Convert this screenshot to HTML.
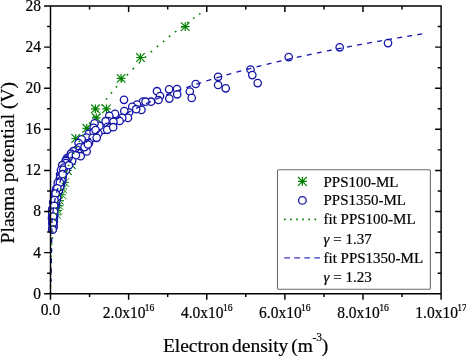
<!DOCTYPE html><html><head><meta charset="utf-8"><style>html,body{margin:0;padding:0;background:#fff;overflow:hidden;}svg{display:block;will-change:transform;}text{font-family:"Liberation Serif",serif;fill:#000;stroke:#000;stroke-width:0.2px;}</style></head><body>
<svg width="466" height="356" viewBox="0 0 466 356">
<path d="M180.90,26.60L189.50,26.60M185.20,22.30L185.20,30.90M180.90,22.30L189.50,30.90M180.90,30.90L189.50,22.30M136.10,57.50L144.70,57.50M140.40,53.20L140.40,61.80M136.10,53.20L144.70,61.80M136.10,61.80L144.70,53.20M116.80,78.40L125.40,78.40M121.10,74.10L121.10,82.70M116.80,74.10L125.40,82.70M116.80,82.70L125.40,74.10M102.10,108.90L110.70,108.90M106.40,104.60L106.40,113.20M102.10,104.60L110.70,113.20M102.10,113.20L110.70,104.60M91.10,108.80L99.70,108.80M95.40,104.50L95.40,113.10M91.10,104.50L99.70,113.10M91.10,113.10L99.70,104.50M92.00,117.80L100.60,117.80M96.30,113.50L96.30,122.10M92.00,113.50L100.60,122.10M92.00,122.10L100.60,113.50M82.50,128.30L91.10,128.30M86.80,124.00L86.80,132.60M82.50,124.00L91.10,132.60M82.50,132.60L91.10,124.00M71.40,138.50L80.00,138.50M75.70,134.20L75.70,142.80M71.40,134.20L80.00,142.80M71.40,142.80L80.00,134.20M64.90,160.20L73.50,160.20M69.20,155.90L69.20,164.50M64.90,155.90L73.50,164.50M64.90,164.50L73.50,155.90M67.00,164.50L75.60,164.50M71.30,160.20L71.30,168.80M67.00,160.20L75.60,168.80M67.00,168.80L75.60,160.20M63.10,170.50L71.70,170.50M67.40,166.20L67.40,174.80M63.10,166.20L71.70,174.80M63.10,174.80L71.70,166.20" stroke="#008000" stroke-width="1.2" fill="none"/>
<path d="M60.50,182.50L69.10,182.50M64.80,178.20L64.80,186.80M60.50,178.20L69.10,186.80M60.50,186.80L69.10,178.20M58.40,188.90L67.00,188.90M62.70,184.60L62.70,193.20M58.40,184.60L67.00,193.20M58.40,193.20L67.00,184.60M57.50,194.70L66.10,194.70M61.80,190.40L61.80,199.00M57.50,190.40L66.10,199.00M57.50,199.00L66.10,190.40M55.30,200.50L63.90,200.50M59.60,196.20L59.60,204.80M55.30,196.20L63.90,204.80M55.30,204.80L63.90,196.20M54.60,205.50L63.20,205.50M58.90,201.20L58.90,209.80M54.60,201.20L63.20,209.80M54.60,209.80L63.20,201.20M53.50,210.50L62.10,210.50M57.80,206.20L57.80,214.80M53.50,206.20L62.10,214.80M53.50,214.80L62.10,206.20M52.70,214.80L61.30,214.80M57.00,210.50L57.00,219.10M52.70,210.50L61.30,219.10M52.70,219.10L61.30,210.50" stroke="#008000" stroke-width="0.9" fill="none"/>
<g fill="#fff" stroke="#1414a8" stroke-width="1.3">
<circle cx="288.7" cy="57.1" r="3.7"/>
<circle cx="339.7" cy="47.3" r="3.7"/>
<circle cx="388.0" cy="43.1" r="3.7"/>
<circle cx="250.5" cy="69.5" r="3.7"/>
<circle cx="252.3" cy="75.1" r="3.7"/>
<circle cx="257.7" cy="83.1" r="3.7"/>
<circle cx="218.1" cy="76.8" r="3.7"/>
<circle cx="218.1" cy="85.0" r="3.7"/>
<circle cx="225.7" cy="88.3" r="3.7"/>
<circle cx="195.7" cy="84.0" r="3.7"/>
<circle cx="189.8" cy="91.5" r="3.7"/>
<circle cx="191.7" cy="97.9" r="3.7"/>
<circle cx="177.0" cy="89.0" r="3.7"/>
<circle cx="177.2" cy="94.3" r="3.7"/>
<circle cx="169.1" cy="89.3" r="3.7"/>
<circle cx="169.3" cy="98.6" r="3.7"/>
<circle cx="157.0" cy="91.2" r="3.7"/>
<circle cx="160.0" cy="96.0" r="3.7"/>
<circle cx="158.4" cy="100.0" r="3.7"/>
<circle cx="151.0" cy="101.7" r="3.7"/>
<circle cx="143.0" cy="101.5" r="3.7"/>
<circle cx="145.5" cy="101.7" r="3.7"/>
<circle cx="137.0" cy="104.5" r="3.7"/>
<circle cx="132.2" cy="106.8" r="3.7"/>
<circle cx="141.4" cy="109.9" r="3.7"/>
<circle cx="129.0" cy="112.5" r="3.7"/>
<circle cx="124.0" cy="99.8" r="3.7"/>
<circle cx="124.3" cy="111.0" r="3.7"/>
<circle cx="136.2" cy="109.2" r="3.7"/>
<circle cx="127.9" cy="117.9" r="3.7"/>
<circle cx="122.2" cy="117.9" r="3.7"/>
<circle cx="115.0" cy="113.9" r="3.7"/>
<circle cx="109.3" cy="115.9" r="3.7"/>
<circle cx="108.2" cy="121.0" r="3.7"/>
<circle cx="119.6" cy="121.0" r="3.7"/>
<circle cx="113.4" cy="121.8" r="3.7"/>
<circle cx="105.6" cy="121.2" r="3.7"/>
<circle cx="107.6" cy="126.9" r="3.7"/>
<circle cx="103.0" cy="130.0" r="3.7"/>
<circle cx="99.4" cy="125.9" r="3.7"/>
<circle cx="94.5" cy="123.3" r="3.7"/>
<circle cx="93.7" cy="127.9" r="3.7"/>
<circle cx="107.2" cy="129.8" r="3.7"/>
<circle cx="113.2" cy="127.2" r="3.7"/>
<circle cx="98.3" cy="133.5" r="3.7"/>
<circle cx="88.9" cy="133.7" r="3.7"/>
<circle cx="93.6" cy="132.1" r="3.7"/>
<circle cx="86.4" cy="137.5" r="3.7"/>
<circle cx="92.6" cy="137.8" r="3.7"/>
<circle cx="96.7" cy="137.8" r="3.7"/>
<circle cx="82.8" cy="141.1" r="3.7"/>
<circle cx="81.7" cy="139.3" r="3.7"/>
<circle cx="89.0" cy="143.0" r="3.7"/>
<circle cx="78.6" cy="143.0" r="3.7"/>
<circle cx="95.6" cy="130.0" r="3.7"/>
<circle cx="79.5" cy="147.3" r="3.7"/>
<circle cx="83.6" cy="149.9" r="3.7"/>
<circle cx="76.9" cy="149.9" r="3.7"/>
<circle cx="73.3" cy="151.2" r="3.7"/>
<circle cx="70.9" cy="153.7" r="3.7"/>
<circle cx="78.4" cy="153.0" r="3.7"/>
<circle cx="86.7" cy="146.2" r="3.7"/>
<circle cx="86.7" cy="151.5" r="3.7"/>
<circle cx="84.6" cy="147.1" r="3.7"/>
<circle cx="87.9" cy="144.5" r="3.7"/>
<circle cx="67.0" cy="158.0" r="3.7"/>
<circle cx="69.5" cy="161.0" r="3.7"/>
<circle cx="72.0" cy="158.5" r="3.7"/>
<circle cx="66.0" cy="162.5" r="3.7"/>
<circle cx="71.3" cy="156.3" r="3.7"/>
<circle cx="69.3" cy="157.8" r="3.7"/>
<circle cx="70.4" cy="159.4" r="3.7"/>
<circle cx="65.9" cy="160.0" r="3.7"/>
<circle cx="71.7" cy="155.5" r="3.7"/>
<circle cx="80.7" cy="156.2" r="3.7"/>
<circle cx="75.9" cy="155.2" r="3.7"/>
<circle cx="72.1" cy="161.0" r="3.7"/>
<circle cx="65.9" cy="161.0" r="3.7"/>
<circle cx="63.7" cy="164.8" r="3.7"/>
<circle cx="61.4" cy="172.6" r="3.7"/>
<circle cx="66.3" cy="164.1" r="3.7"/>
<circle cx="61.8" cy="171.2" r="3.7"/>
<circle cx="53.0" cy="210.4" r="3.7"/>
<circle cx="52.7" cy="213.7" r="3.7"/>
<circle cx="62.5" cy="177.4" r="3.7"/>
<circle cx="60.9" cy="179.0" r="3.7"/>
<circle cx="60.1" cy="174.7" r="3.7"/>
<circle cx="55.9" cy="192.5" r="3.7"/>
<circle cx="60.8" cy="176.0" r="3.7"/>
<circle cx="61.2" cy="176.8" r="3.7"/>
<circle cx="54.3" cy="203.0" r="3.7"/>
<circle cx="65.3" cy="170.5" r="3.7"/>
<circle cx="54.5" cy="204.6" r="3.7"/>
<circle cx="63.3" cy="165.5" r="3.7"/>
<circle cx="53.8" cy="221.5" r="3.7"/>
<circle cx="52.6" cy="228.9" r="3.7"/>
<circle cx="52.4" cy="211.5" r="3.7"/>
<circle cx="62.7" cy="175.3" r="3.7"/>
<circle cx="62.9" cy="167.7" r="3.7"/>
<circle cx="62.5" cy="174.1" r="3.7"/>
<circle cx="52.0" cy="218.4" r="3.7"/>
<circle cx="52.5" cy="222.3" r="3.7"/>
<circle cx="59.2" cy="185.9" r="3.7"/>
<circle cx="58.3" cy="187.6" r="3.7"/>
<circle cx="53.2" cy="202.3" r="3.7"/>
<circle cx="56.3" cy="196.2" r="3.7"/>
<circle cx="54.0" cy="217.8" r="3.7"/>
<circle cx="52.2" cy="229.4" r="3.7"/>
<circle cx="59.9" cy="185.1" r="3.7"/>
<circle cx="58.5" cy="182.1" r="3.7"/>
<circle cx="58.5" cy="189.3" r="3.7"/>
<circle cx="64.7" cy="166.8" r="3.7"/>
<circle cx="52.2" cy="216.7" r="3.7"/>
<circle cx="53.7" cy="213.1" r="3.7"/>
<circle cx="54.1" cy="200.3" r="3.7"/>
<circle cx="52.7" cy="209.8" r="3.7"/>
<circle cx="56.4" cy="188.4" r="3.7"/>
<circle cx="54.2" cy="214.9" r="3.7"/>
<circle cx="52.1" cy="210.9" r="3.7"/>
<circle cx="60.8" cy="184.4" r="3.7"/>
<circle cx="57.1" cy="190.9" r="3.7"/>
<circle cx="55.5" cy="191.7" r="3.7"/>
<circle cx="55.0" cy="198.8" r="3.7"/>
<circle cx="55.3" cy="193.0" r="3.7"/>
<circle cx="53.5" cy="225.4" r="3.7"/>
<circle cx="59.0" cy="190.3" r="3.7"/>
<circle cx="64.5" cy="169.3" r="3.7"/>
<circle cx="67.1" cy="163.6" r="3.7"/>
<circle cx="65.1" cy="168.3" r="3.7"/>
<circle cx="55.2" cy="201.7" r="3.7"/>
<circle cx="53.0" cy="214.4" r="3.7"/>
<circle cx="55.2" cy="206.9" r="3.7"/>
<circle cx="52.4" cy="209.3" r="3.7"/>
<circle cx="54.9" cy="198.1" r="3.7"/>
<circle cx="55.4" cy="206.0" r="3.7"/>
<circle cx="53.1" cy="220.5" r="3.7"/>
<circle cx="52.1" cy="212.2" r="3.7"/>
<circle cx="53.0" cy="223.9" r="3.7"/>
<circle cx="53.2" cy="220.0" r="3.7"/>
<circle cx="54.2" cy="200.9" r="3.7"/>
<circle cx="63.2" cy="166.3" r="3.7"/>
<circle cx="55.4" cy="193.9" r="3.7"/>
<circle cx="56.0" cy="203.8" r="3.7"/>
<circle cx="59.9" cy="178.3" r="3.7"/>
<circle cx="53.2" cy="215.9" r="3.7"/>
<circle cx="53.4" cy="227.3" r="3.7"/>
<circle cx="56.8" cy="199.7" r="3.7"/>
<circle cx="63.2" cy="173.4" r="3.7"/>
<circle cx="52.3" cy="223.0" r="3.7"/>
<circle cx="52.6" cy="224.8" r="3.7"/>
<circle cx="52.8" cy="217.2" r="3.7"/>
<circle cx="65.7" cy="163.0" r="3.7"/>
<circle cx="52.6" cy="208.5" r="3.7"/>
<circle cx="59.8" cy="181.2" r="3.7"/>
<circle cx="56.2" cy="194.5" r="3.7"/>
<circle cx="62.4" cy="180.6" r="3.7"/>
<circle cx="53.6" cy="207.8" r="3.7"/>
<circle cx="60.6" cy="183.6" r="3.7"/>
<circle cx="62.3" cy="171.7" r="3.7"/>
<circle cx="57.8" cy="182.8" r="3.7"/>
<circle cx="66.1" cy="170.0" r="3.7"/>
<circle cx="57.0" cy="197.1" r="3.7"/>
<circle cx="53.5" cy="226.4" r="3.7"/>
<circle cx="54.8" cy="205.4" r="3.7"/>
<circle cx="54.8" cy="195.5" r="3.7"/>
<circle cx="53.2" cy="219.4" r="3.7"/>
<circle cx="52.5" cy="228.2" r="3.7"/>
<circle cx="61.5" cy="180.0" r="3.7"/>
<circle cx="60.1" cy="186.6" r="3.7"/>
<circle cx="62.3" cy="165.2" r="3.7"/>
<circle cx="64.0" cy="167.5" r="3.7"/>
<circle cx="61.0" cy="170.0" r="3.7"/>
<circle cx="63.3" cy="169.8" r="3.7"/>
<circle cx="68.9" cy="165.2" r="3.7"/>
<circle cx="62.7" cy="174.2" r="3.7"/>
<circle cx="59.9" cy="182.6" r="3.7"/>
<circle cx="57.3" cy="188.3" r="3.7"/>
<circle cx="55.6" cy="193.5" r="3.7"/>
<circle cx="54.5" cy="200.1" r="3.7"/>
<circle cx="54.2" cy="205.8" r="3.7"/>
<circle cx="54.0" cy="211.5" r="3.7"/>
<circle cx="53.1" cy="216.5" r="3.7"/>
<circle cx="53.0" cy="222.9" r="3.7"/>
<circle cx="52.7" cy="229.7" r="3.7"/>
</g>
<!-- green P=6.046 c0=1.275 r=0.950 -->
<path d="M50.50,293.08 L50.50,293.03 L50.50,292.97 L50.50,292.92 L50.50,292.86 L50.50,292.80 L50.50,292.74 L50.50,292.68 L50.50,292.62 L50.50,292.56 L50.50,292.50 L50.50,292.44 L50.50,292.38 L50.50,292.32 L50.50,292.26 L50.50,292.20 L50.50,292.13 L50.50,292.07 L50.50,292.01 L50.50,291.95 L50.50,291.88 L50.50,291.82 L50.50,291.78M50.51,287.03 L50.51,286.98 L50.51,286.91 L50.51,286.84 L50.51,286.77 L50.51,286.70 L50.51,286.62 L50.51,286.55 L50.51,286.48 L50.51,286.41 L50.51,286.33 L50.51,286.26 L50.51,286.19 L50.51,286.12 L50.51,286.04 L50.51,285.97 L50.51,285.90 L50.51,285.83 L50.51,285.75 L50.51,285.73M50.54,280.98 L50.54,280.97 L50.54,280.89 L50.54,280.82 L50.54,280.74 L50.54,280.66 L50.54,280.59 L50.54,280.51 L50.54,280.43 L50.54,280.36 L50.54,280.28 L50.54,280.20 L50.54,280.13 L50.54,280.05 L50.54,279.97 L50.54,279.90 L50.54,279.82 L50.55,279.74 L50.55,279.68M50.60,274.94 L50.60,274.89 L50.60,274.81 L50.60,274.73 L50.60,274.65 L50.61,274.57 L50.61,274.49 L50.61,274.41 L50.61,274.33 L50.61,274.25 L50.61,274.17 L50.61,274.09 L50.61,274.01 L50.62,273.93 L50.62,273.85 L50.62,273.77 L50.62,273.69 L50.62,273.64M50.71,268.89 L50.71,268.85 L50.72,268.76 L50.72,268.68 L50.72,268.60 L50.72,268.52 L50.72,268.44 L50.73,268.36 L50.73,268.27 L50.73,268.19 L50.73,268.11 L50.73,268.03 L50.74,267.95 L50.74,267.86 L50.74,267.78 L50.74,267.70 L50.74,267.62 L50.75,267.59M50.89,262.85 L50.89,262.82 L50.89,262.74 L50.89,262.65 L50.89,262.57 L50.90,262.49 L50.90,262.40 L50.90,262.32 L50.91,262.24 L50.91,262.15 L50.91,262.07 L50.92,261.99 L50.92,261.90 L50.92,261.82 L50.92,261.74 L50.93,261.65 L50.93,261.57 L50.93,261.55M51.13,256.80 L51.13,256.76 L51.13,256.68 L51.14,256.59 L51.14,256.51 L51.14,256.42 L51.15,256.34 L51.15,256.25 L51.15,256.17 L51.16,256.08 L51.16,256.00 L51.17,255.91 L51.17,255.83 L51.18,255.74 L51.18,255.66 L51.18,255.57 L51.19,255.50M51.44,250.75 L51.45,250.69 L51.45,250.60 L51.46,250.52 L51.46,250.43 L51.47,250.34 L51.47,250.26 L51.48,250.17 L51.48,250.08 L51.49,250.00 L51.49,249.91 L51.50,249.83 L51.50,249.74 L51.51,249.65 L51.51,249.57 L51.52,249.48 L51.52,249.45M51.85,244.71 L51.85,244.70 L51.85,244.61 L51.86,244.53 L51.87,244.44 L51.87,244.35 L51.88,244.27 L51.89,244.18 L51.89,244.09 L51.90,244.00 L51.91,243.92 L51.91,243.83 L51.92,243.74 L51.93,243.65 L51.93,243.57 L51.94,243.48 L51.94,243.41M52.34,238.66 L52.34,238.64 L52.35,238.55 L52.36,238.47 L52.37,238.38 L52.38,238.29 L52.38,238.20 L52.39,238.11 L52.40,238.02 L52.41,237.94 L52.42,237.85 L52.43,237.76 L52.43,237.67 L52.44,237.58 L52.45,237.49 L52.46,237.41 L52.46,237.36M52.94,232.62 L52.94,232.61 L52.95,232.52 L52.96,232.43 L52.97,232.34 L52.98,232.25 L52.99,232.16 L53.00,232.07 L53.01,231.98 L53.02,231.89 L53.03,231.80 L53.04,231.71 L53.05,231.62 L53.06,231.53 L53.07,231.44 L53.08,231.36 L53.09,231.32M53.65,226.57 L53.66,226.51 L53.67,226.42 L53.68,226.33 L53.69,226.24 L53.71,226.15 L53.72,226.06 L53.73,225.97 L53.74,225.88 L53.75,225.79 L53.76,225.70 L53.78,225.61 L53.79,225.52 L53.80,225.43 L53.81,225.34 L53.82,225.27M54.48,220.52 L54.49,220.45 L54.50,220.36 L54.52,220.27 L54.53,220.18 L54.54,220.08 L54.56,219.99 L54.57,219.90 L54.59,219.81 L54.60,219.72 L54.61,219.63 L54.63,219.54 L54.64,219.45 L54.65,219.36 L54.67,219.27 L54.67,219.22M55.43,214.48 L55.44,214.43 L55.46,214.34 L55.47,214.25 L55.49,214.15 L55.50,214.06 L55.52,213.97 L55.53,213.88 L55.55,213.79 L55.56,213.70 L55.58,213.60 L55.60,213.51 L55.61,213.42 L55.63,213.33 L55.64,213.24 L55.65,213.18M56.52,208.43 L56.53,208.36 L56.55,208.27 L56.57,208.18 L56.58,208.09 L56.60,207.99 L56.62,207.90 L56.64,207.81 L56.65,207.72 L56.67,207.62 L56.69,207.53 L56.71,207.44 L56.73,207.35 L56.74,207.26 L56.76,207.16 L56.77,207.13M57.74,202.39 L57.75,202.35 L57.77,202.25 L57.79,202.16 L57.81,202.07 L57.83,201.98 L57.85,201.88 L57.87,201.79 L57.89,201.70 L57.91,201.60 L57.93,201.51 L57.95,201.42 L57.97,201.32 L57.99,201.23 L58.01,201.14 L58.02,201.09M59.11,196.34 L59.12,196.29 L59.14,196.20 L59.17,196.10 L59.19,196.01 L59.21,195.92 L59.23,195.82 L59.26,195.73 L59.28,195.64 L59.30,195.54 L59.32,195.45 L59.35,195.36 L59.37,195.26 L59.39,195.17 L59.42,195.08 L59.42,195.04M60.63,190.29 L60.63,190.29 L60.66,190.20 L60.68,190.10 L60.71,190.01 L60.73,189.92 L60.76,189.82 L60.78,189.73 L60.81,189.63 L60.83,189.54 L60.86,189.45 L60.88,189.35 L60.91,189.26 L60.93,189.16 L60.96,189.07 L60.98,188.99M62.32,184.25 L62.34,184.16 L62.37,184.07 L62.39,183.98 L62.42,183.88 L62.45,183.79 L62.48,183.69 L62.51,183.60 L62.53,183.50 L62.56,183.41 L62.59,183.31 L62.62,183.22 L62.65,183.12 L62.67,183.03 L62.70,182.95M64.16,178.20 L64.17,178.19 L64.20,178.10 L64.23,178.00 L64.26,177.91 L64.29,177.81 L64.32,177.72 L64.35,177.62 L64.38,177.53 L64.41,177.43 L64.44,177.34 L64.47,177.24 L64.50,177.15 L64.53,177.05 L64.56,176.96 L64.58,176.90M66.18,172.16 L66.20,172.09 L66.24,172.00 L66.27,171.90 L66.30,171.81 L66.34,171.71 L66.37,171.62 L66.41,171.52 L66.44,171.43 L66.47,171.33 L66.51,171.23 L66.54,171.14 L66.57,171.04 L66.61,170.95 L66.64,170.86M68.38,166.11 L68.40,166.06 L68.44,165.97 L68.47,165.87 L68.51,165.77 L68.55,165.68 L68.58,165.58 L68.62,165.49 L68.66,165.39 L68.69,165.29 L68.73,165.20 L68.77,165.10 L68.80,165.01 L68.84,164.91 L68.88,164.81 L68.88,164.81M70.77,160.06 L70.79,160.00 L70.83,159.90 L70.87,159.81 L70.91,159.71 L70.95,159.61 L70.99,159.52 L71.03,159.42 L71.07,159.33 L71.11,159.23 L71.15,159.13 L71.19,159.04 L71.23,158.94 L71.27,158.84 L71.30,158.76M73.34,154.02 L73.34,154.01 L73.39,153.91 L73.43,153.81 L73.47,153.72 L73.52,153.62 L73.56,153.52 L73.60,153.43 L73.64,153.33 L73.69,153.23 L73.73,153.14 L73.77,153.04 L73.82,152.94 L73.86,152.85 L73.90,152.75 L73.92,152.72M76.11,147.97 L76.15,147.89 L76.19,147.80 L76.24,147.70 L76.29,147.60 L76.33,147.50 L76.38,147.41 L76.43,147.31 L76.47,147.21 L76.52,147.12 L76.57,147.02 L76.61,146.92 L76.66,146.82 L76.71,146.73 L76.73,146.67M79.09,141.93 L79.12,141.85 L79.17,141.75 L79.22,141.66 L79.27,141.56 L79.32,141.46 L79.37,141.36 L79.42,141.27 L79.47,141.17 L79.52,141.07 L79.57,140.97 L79.62,140.87 L79.67,140.78 L79.72,140.68 L79.75,140.63M82.27,135.88 L82.32,135.78 L82.37,135.69 L82.43,135.59 L82.48,135.49 L82.53,135.39 L82.59,135.29 L82.64,135.20 L82.70,135.10 L82.75,135.00 L82.80,134.90 L82.86,134.80 L82.91,134.71 L82.96,134.61 L82.98,134.58M85.67,129.83 L85.69,129.79 L85.75,129.70 L85.80,129.60 L85.86,129.50 L85.92,129.40 L85.98,129.30 L86.03,129.20 L86.09,129.10 L86.15,129.01 L86.21,128.91 L86.26,128.81 L86.32,128.71 L86.38,128.61 L86.43,128.53M89.28,123.79 L89.29,123.78 L89.35,123.68 L89.41,123.58 L89.47,123.48 L89.53,123.39 L89.59,123.29 L89.65,123.19 L89.72,123.09 L89.78,122.99 L89.84,122.89 L89.90,122.79 L89.96,122.69 L90.02,122.60 L90.09,122.50 L90.09,122.49M93.13,117.74 L93.19,117.65 L93.25,117.55 L93.32,117.45 L93.38,117.35 L93.45,117.25 L93.51,117.15 L93.58,117.05 L93.65,116.95 L93.71,116.85 L93.78,116.76 L93.84,116.66 L93.91,116.56 L93.97,116.46 L93.98,116.44M97.20,111.70 L97.21,111.69 L97.27,111.59 L97.34,111.49 L97.41,111.39 L97.48,111.29 L97.55,111.19 L97.62,111.10 L97.69,111.00 L97.76,110.90 L97.83,110.80 L97.90,110.70 L97.97,110.60 L98.04,110.50 L98.11,110.40 L98.11,110.40M101.52,105.65 L101.54,105.62 L101.61,105.52 L101.69,105.42 L101.76,105.32 L101.83,105.22 L101.91,105.12 L101.98,105.02 L102.05,104.92 L102.13,104.82 L102.20,104.72 L102.27,104.62 L102.35,104.52 L102.42,104.42 L102.47,104.35M106.07,99.60 L106.13,99.52 L106.21,99.42 L106.29,99.32 L106.37,99.22 L106.44,99.12 L106.52,99.02 L106.60,98.92 L106.68,98.82 L106.76,98.72 L106.83,98.62 L106.91,98.52 L106.99,98.42 L107.07,98.32 L107.08,98.30M110.87,93.56 L110.91,93.51 L110.99,93.41 L111.08,93.31 L111.16,93.21 L111.24,93.11 L111.32,93.01 L111.41,92.91 L111.49,92.81 L111.57,92.71 L111.65,92.61 L111.73,92.51 L111.82,92.41 L111.90,92.31 L111.94,92.26M115.93,87.51 L115.96,87.48 L116.04,87.38 L116.13,87.28 L116.22,87.18 L116.30,87.08 L116.39,86.98 L116.48,86.87 L116.56,86.77 L116.65,86.67 L116.74,86.57 L116.83,86.47 L116.91,86.37 L117.00,86.27 L117.05,86.21M121.25,81.47 L121.28,81.43 L121.37,81.33 L121.46,81.23 L121.55,81.13 L121.64,81.03 L121.73,80.93 L121.83,80.82 L121.92,80.72 L122.01,80.62 L122.10,80.52 L122.19,80.42 L122.28,80.32 L122.38,80.22 L122.42,80.17M126.83,75.42 L126.88,75.36 L126.97,75.26 L127.07,75.16 L127.17,75.06 L127.26,74.96 L127.36,74.86 L127.45,74.76 L127.55,74.66 L127.65,74.55 L127.74,74.45 L127.84,74.35 L127.94,74.25 L128.03,74.15 L128.06,74.12M132.68,69.37 L132.77,69.28 L132.87,69.18 L132.97,69.08 L133.07,68.98 L133.17,68.88 L133.27,68.78 L133.37,68.67 L133.47,68.57 L133.57,68.47 L133.67,68.37 L133.78,68.27 L133.88,68.17 L133.97,68.07M138.72,63.41 L138.74,63.39 L138.84,63.29 L138.95,63.18 L139.05,63.08 L139.16,62.98 L139.27,62.88 L139.37,62.78 L139.48,62.68 L139.58,62.57 L139.69,62.47 L139.80,62.37 L139.90,62.27 L140.01,62.17 L140.02,62.16M144.76,57.69 L144.77,57.68 L144.88,57.58 L144.99,57.48 L145.10,57.38 L145.21,57.27 L145.32,57.17 L145.43,57.07 L145.54,56.97 L145.66,56.87 L145.77,56.76 L145.88,56.66 L145.99,56.56 L146.06,56.49M150.81,52.20 L150.84,52.17 L150.96,52.06 L151.07,51.96 L151.19,51.86 L151.30,51.76 L151.42,51.65 L151.53,51.55 L151.65,51.45 L151.77,51.35 L151.88,51.25 L152.00,51.14 L152.11,51.05M156.85,46.91 L156.93,46.84 L157.05,46.74 L157.17,46.64 L157.29,46.54 L157.41,46.43 L157.53,46.33 L157.65,46.23 L157.77,46.13 L157.89,46.02 L158.01,45.92 L158.13,45.82 L158.15,45.80M162.90,41.81 L163.02,41.71 L163.14,41.61 L163.26,41.51 L163.39,41.41 L163.51,41.30 L163.64,41.20 L163.76,41.10 L163.89,41.00 L164.01,40.89 L164.14,40.79 L164.20,40.74M168.95,36.88 L169.07,36.78 L169.20,36.68 L169.33,36.58 L169.46,36.47 L169.58,36.37 L169.71,36.27 L169.84,36.16 L169.97,36.06 L170.10,35.96 L170.23,35.85 L170.25,35.84M174.99,32.11 L175.07,32.04 L175.20,31.94 L175.34,31.84 L175.47,31.74 L175.60,31.63 L175.74,31.53 L175.87,31.43 L176.00,31.32 L176.14,31.22 L176.27,31.12 L176.29,31.10M181.04,27.48 L181.13,27.40 L181.27,27.30 L181.41,27.20 L181.55,27.09 L181.68,26.99 L181.82,26.89 L181.96,26.78 L182.10,26.68 L182.23,26.58 L182.34,26.50M187.08,22.98 L187.11,22.96 L187.25,22.86 L187.39,22.75 L187.53,22.65 L187.67,22.55 L187.82,22.44 L187.96,22.34 L188.10,22.24 L188.24,22.13 L188.38,22.03 L188.38,22.03M193.13,18.60 L193.26,18.51 L193.41,18.41 L193.55,18.30 L193.70,18.20 L193.85,18.09 L193.99,17.99 L194.14,17.89 L194.28,17.78 L194.43,17.68 L194.43,17.68M199.18,14.35 L199.30,14.26 L199.45,14.15 L199.60,14.05 L199.75,13.95 L199.90,13.84 L200.05,13.74 L200.20,13.64 L200.35,13.53 L200.48,13.45" stroke="#008000" stroke-width="1.6" fill="none"/>
<!-- blue P=10.048 c0=1.178 r=0.979 -->
<path d="M51.00,282.00 L51.06,278.42M51.14,273.17 L51.22,268.37M51.31,263.13 L51.39,258.33M51.47,253.08 L51.55,248.28M51.63,243.03 L51.71,238.23M51.80,232.98 L51.88,228.18M51.96,222.93 L52.00,220.58 L52.00,220.58 L52.00,220.58 L52.00,220.58 L52.00,220.58 L52.00,220.58 L52.00,220.58 L52.00,220.58 L52.00,220.58 L52.00,220.58 L52.00,220.58 L52.00,220.58 L52.00,220.58 L52.00,220.58 L52.00,220.58 L52.00,220.58 L52.00,220.58 L52.00,220.58 L52.00,220.58 L52.00,220.58 L52.00,220.58 L52.00,220.58 L52.00,220.58 L52.00,220.58 L52.00,220.58 L52.00,220.58 L52.00,220.58 L52.00,220.58 L52.00,220.58 L52.00,220.58 L52.00,220.58 L52.00,220.58 L52.00,220.58 L52.00,220.58 L52.00,220.58 L52.00,220.58 L52.00,220.58 L52.00,220.58 L52.00,220.58 L52.00,220.58 L52.00,220.57 L52.00,220.57 L52.00,220.57 L52.00,220.57 L52.00,220.57 L52.00,220.57 L52.00,220.57 L52.00,220.57 L52.00,220.57 L52.00,220.57 L52.00,220.57 L52.00,220.56 L52.00,220.56 L52.00,220.56 L52.00,220.56 L52.00,220.56 L52.00,220.56 L52.00,220.56 L52.00,220.55 L52.00,220.55 L52.00,220.55 L52.00,220.55 L52.00,220.55 L52.00,220.55 L52.00,220.54 L52.00,220.54 L52.00,220.54 L52.00,220.54 L52.00,220.54 L52.00,220.53 L52.00,220.53 L52.00,220.53 L52.01,220.53 L52.01,220.52 L52.01,220.52 L52.01,220.52 L52.01,220.52 L52.01,220.51 L52.01,220.51 L52.01,220.51 L52.01,220.51 L52.01,220.50 L52.01,220.50 L52.01,220.50 L52.01,220.49 L52.01,220.49 L52.01,220.49 L52.01,220.48 L52.01,220.48 L52.01,220.48 L52.01,220.47 L52.01,220.47 L52.01,220.47 L52.01,220.46 L52.01,220.46 L52.01,220.45 L52.01,220.45 L52.01,220.44 L52.01,220.44 L52.01,220.44 L52.01,220.43 L52.01,220.43 L52.01,220.42 L52.01,220.42 L52.02,220.41 L52.02,220.41 L52.02,220.40 L52.02,220.40 L52.02,220.39 L52.02,220.39 L52.02,220.38 L52.02,220.38 L52.02,220.37 L52.02,220.36 L52.02,220.36 L52.02,220.35 L52.02,220.35 L52.02,220.34 L52.02,220.33 L52.02,220.33 L52.02,220.32 L52.02,220.31 L52.02,220.31 L52.03,220.30 L52.03,220.29 L52.03,220.29 L52.03,220.28 L52.03,220.27 L52.03,220.26 L52.03,220.26 L52.03,220.25 L52.03,220.24 L52.03,220.23 L52.03,220.23 L52.03,220.22 L52.03,220.21 L52.03,220.20 L52.04,220.19 L52.04,220.18 L52.04,220.18 L52.04,220.17 L52.04,220.16 L52.04,220.15 L52.04,220.14 L52.04,220.13 L52.04,220.12 L52.04,220.11 L52.04,220.10 L52.04,220.09 L52.05,220.08 L52.05,220.07 L52.05,220.06 L52.05,220.05 L52.05,220.04 L52.05,220.03 L52.05,220.02 L52.05,220.01 L52.05,220.00 L52.05,219.99 L52.06,219.97 L52.06,219.96 L52.06,219.95 L52.06,219.94 L52.06,219.93 L52.06,219.92 L52.06,219.90 L52.06,219.89 L52.06,219.88 L52.07,219.87 L52.07,219.85 L52.07,219.84 L52.07,219.83 L52.07,219.82 L52.07,219.80 L52.07,219.79 L52.07,219.78 L52.07,219.76 L52.08,219.75 L52.08,219.73 L52.08,219.72 L52.08,219.71 L52.08,219.69 L52.08,219.68 L52.08,219.66 L52.09,219.65 L52.09,219.63 L52.09,219.62 L52.09,219.60 L52.09,219.59 L52.09,219.57 L52.09,219.55 L52.10,219.54 L52.10,219.52 L52.10,219.51 L52.10,219.49 L52.10,219.47 L52.10,219.46 L52.10,219.44 L52.11,219.42 L52.11,219.40 L52.11,219.39 L52.11,219.37 L52.11,219.35 L52.11,219.33 L52.12,219.32 L52.12,219.30 L52.12,219.28 L52.12,219.26 L52.12,219.24 L52.13,219.22 L52.13,219.20 L52.13,219.18 L52.13,219.17 L52.13,219.15 L52.13,219.13 L52.14,219.11 L52.14,219.09 L52.14,219.07 L52.14,219.05 L52.14,219.03 L52.15,219.00 L52.15,218.98 L52.15,218.96 L52.15,218.94 L52.15,218.92 L52.16,218.90 L52.16,218.88 L52.16,218.85 L52.16,218.83 L52.16,218.81 L52.17,218.79 L52.17,218.77 L52.17,218.74 L52.17,218.72 L52.18,218.70 L52.18,218.67 L52.18,218.65 L52.18,218.63 L52.18,218.60 L52.19,218.58 L52.19,218.55 L52.19,218.53 L52.19,218.51 L52.20,218.48 L52.20,218.46 L52.20,218.43 L52.20,218.41 L52.21,218.38 L52.21,218.35 L52.21,218.33 L52.21,218.30 L52.22,218.28 L52.22,218.25 L52.22,218.22 L52.22,218.20 L52.23,218.17 L52.23,218.14 L52.23,218.13M52.82,212.89 L52.82,212.87 L52.83,212.82 L52.83,212.77 L52.84,212.72 L52.85,212.67 L52.85,212.61 L52.86,212.56 L52.87,212.51 L52.87,212.46 L52.88,212.41 L52.88,212.36 L52.89,212.30 L52.90,212.25 L52.90,212.20 L52.91,212.15 L52.92,212.09 L52.93,212.04 L52.93,211.99 L52.94,211.94 L52.95,211.88 L52.95,211.83 L52.96,211.78 L52.97,211.72 L52.97,211.67 L52.98,211.62 L52.99,211.56 L53.00,211.51 L53.00,211.45 L53.01,211.40 L53.02,211.34 L53.02,211.29 L53.03,211.23 L53.04,211.18 L53.05,211.12 L53.05,211.07 L53.06,211.01 L53.07,210.96 L53.08,210.90 L53.08,210.85 L53.09,210.79 L53.10,210.73 L53.11,210.68 L53.11,210.62 L53.12,210.56 L53.13,210.51 L53.14,210.45 L53.15,210.39 L53.15,210.34 L53.16,210.28 L53.17,210.22 L53.18,210.17 L53.18,210.11 L53.19,210.05 L53.20,209.99 L53.21,209.94 L53.22,209.88 L53.23,209.82 L53.23,209.76 L53.24,209.70 L53.25,209.64 L53.26,209.58 L53.27,209.53 L53.28,209.47 L53.28,209.41 L53.29,209.35 L53.30,209.29 L53.31,209.23 L53.32,209.17 L53.33,209.11 L53.34,209.05 L53.34,208.99 L53.35,208.93 L53.36,208.87 L53.37,208.81 L53.38,208.75 L53.39,208.69 L53.40,208.63 L53.41,208.57 L53.42,208.51 L53.42,208.45 L53.43,208.39 L53.44,208.33 L53.45,208.26 L53.46,208.20 L53.47,208.14 L53.48,208.09M54.36,202.84 L54.36,202.84 L54.37,202.77 L54.38,202.70 L54.40,202.63 L54.41,202.56 L54.42,202.49 L54.44,202.42 L54.45,202.35 L54.46,202.28 L54.47,202.21 L54.49,202.14 L54.50,202.07 L54.51,202.00 L54.53,201.94 L54.54,201.87 L54.55,201.80 L54.57,201.73 L54.58,201.66 L54.60,201.59 L54.61,201.51 L54.62,201.44 L54.64,201.37 L54.65,201.30 L54.66,201.23 L54.68,201.16 L54.69,201.09 L54.71,201.02 L54.72,200.95 L54.73,200.88 L54.75,200.81 L54.76,200.74 L54.78,200.67 L54.79,200.60 L54.80,200.53 L54.82,200.45 L54.83,200.38 L54.85,200.31 L54.86,200.24 L54.88,200.17 L54.89,200.10 L54.91,200.03 L54.92,199.95 L54.93,199.88 L54.95,199.81 L54.96,199.74 L54.98,199.67 L54.99,199.60 L55.01,199.52 L55.02,199.45 L55.04,199.38 L55.05,199.31 L55.07,199.24 L55.08,199.16 L55.10,199.09 L55.11,199.02 L55.13,198.95 L55.15,198.87 L55.16,198.80 L55.18,198.73 L55.19,198.66 L55.21,198.58 L55.22,198.51 L55.24,198.44 L55.25,198.37 L55.27,198.29 L55.29,198.22 L55.30,198.15 L55.32,198.08 L55.33,198.04M56.59,192.79 L56.61,192.72 L56.63,192.64 L56.65,192.57 L56.67,192.49 L56.69,192.42 L56.71,192.34 L56.73,192.26 L56.75,192.19 L56.77,192.11 L56.79,192.04 L56.81,191.96 L56.83,191.88 L56.85,191.81 L56.87,191.73 L56.89,191.66 L56.91,191.58 L56.93,191.50 L56.95,191.43 L56.97,191.35 L56.99,191.28 L57.02,191.20 L57.04,191.12 L57.06,191.05 L57.08,190.97 L57.10,190.90 L57.12,190.82 L57.14,190.74 L57.16,190.67 L57.19,190.59 L57.21,190.51 L57.23,190.44 L57.25,190.36 L57.27,190.29 L57.29,190.21 L57.32,190.13 L57.34,190.06 L57.36,189.98 L57.38,189.90 L57.40,189.83 L57.43,189.75 L57.45,189.67 L57.47,189.60 L57.49,189.52 L57.52,189.44 L57.54,189.37 L57.56,189.29 L57.58,189.21 L57.61,189.14 L57.63,189.06 L57.65,188.98 L57.67,188.91 L57.70,188.83 L57.72,188.75 L57.74,188.68 L57.77,188.60 L57.79,188.52 L57.81,188.45 L57.84,188.37 L57.86,188.29 L57.88,188.21 L57.91,188.14 L57.93,188.06 L57.95,187.99M59.70,182.74 L59.71,182.72 L59.73,182.64 L59.76,182.57 L59.79,182.49 L59.82,182.41 L59.85,182.33 L59.87,182.26 L59.90,182.18 L59.93,182.10 L59.96,182.02 L59.99,181.94 L60.02,181.87 L60.05,181.79 L60.08,181.71 L60.10,181.63 L60.13,181.56 L60.16,181.48 L60.19,181.40 L60.22,181.32 L60.25,181.24 L60.28,181.17 L60.31,181.09 L60.34,181.01 L60.37,180.93 L60.40,180.86 L60.43,180.78 L60.46,180.70 L60.49,180.62 L60.52,180.54 L60.55,180.47 L60.58,180.39 L60.61,180.31 L60.64,180.23 L60.67,180.16 L60.70,180.08 L60.73,180.00 L60.76,179.92 L60.79,179.84 L60.82,179.77 L60.85,179.69 L60.88,179.61 L60.91,179.53 L60.94,179.45 L60.97,179.38 L61.01,179.30 L61.04,179.22 L61.07,179.14 L61.10,179.07 L61.13,178.99 L61.16,178.91 L61.19,178.83 L61.22,178.75 L61.26,178.68 L61.29,178.60 L61.32,178.52 L61.35,178.44 L61.38,178.36 L61.42,178.29 L61.45,178.21 L61.48,178.13 L61.51,178.05 L61.54,177.98 L61.56,177.94M63.91,172.69 L63.91,172.68 L63.95,172.60 L63.99,172.53 L64.03,172.45 L64.06,172.37 L64.10,172.29 L64.14,172.22 L64.18,172.14 L64.22,172.06 L64.25,171.98 L64.29,171.91 L64.33,171.83 L64.37,171.75 L64.41,171.67 L64.45,171.59 L64.49,171.52 L64.52,171.44 L64.56,171.36 L64.60,171.28 L64.64,171.21 L64.68,171.13 L64.72,171.05 L64.76,170.97 L64.80,170.90 L64.84,170.82 L64.88,170.74 L64.92,170.66 L64.95,170.58 L64.99,170.51 L65.03,170.43 L65.07,170.35 L65.11,170.27 L65.15,170.20 L65.19,170.12 L65.23,170.04 L65.27,169.96 L65.31,169.89 L65.36,169.81 L65.40,169.73 L65.44,169.65 L65.48,169.58 L65.52,169.50 L65.56,169.42 L65.60,169.34 L65.64,169.27 L65.68,169.19 L65.72,169.11 L65.76,169.03 L65.80,168.96 L65.85,168.88 L65.89,168.80 L65.93,168.72 L65.97,168.65 L66.01,168.57 L66.05,168.49 L66.10,168.41 L66.14,168.34 L66.18,168.26 L66.22,168.18 L66.26,168.10 L66.31,168.03 L66.35,167.95 L66.38,167.89M69.47,162.65 L69.48,162.63 L69.53,162.55 L69.58,162.47 L69.62,162.40 L69.67,162.32 L69.72,162.24 L69.77,162.17 L69.82,162.09 L69.87,162.01 L69.92,161.94 L69.97,161.86 L70.02,161.78 L70.07,161.71 L70.12,161.63 L70.16,161.55 L70.21,161.48 L70.26,161.40 L70.31,161.32 L70.36,161.25 L70.41,161.17 L70.46,161.09 L70.51,161.02 L70.56,160.94 L70.62,160.86 L70.67,160.79 L70.72,160.71 L70.77,160.63 L70.82,160.56 L70.87,160.48 L70.92,160.40 L70.97,160.33 L71.02,160.25 L71.07,160.17 L71.12,160.10 L71.18,160.02 L71.23,159.94 L71.28,159.87 L71.33,159.79 L71.38,159.71 L71.43,159.64 L71.49,159.56 L71.54,159.49 L71.59,159.41 L71.64,159.33 L71.69,159.26 L71.75,159.18 L71.80,159.10 L71.85,159.03 L71.91,158.95 L71.96,158.87 L72.01,158.80 L72.06,158.72 L72.12,158.65 L72.17,158.57 L72.22,158.49 L72.28,158.42 L72.33,158.34 L72.38,158.26 L72.44,158.19 L72.49,158.11 L72.54,158.03 L72.60,157.96 L72.65,157.88 L72.68,157.85M76.65,152.60 L76.67,152.57 L76.73,152.50 L76.80,152.42 L76.86,152.34 L76.92,152.27 L76.98,152.19 L77.04,152.12 L77.10,152.04 L77.16,151.97 L77.23,151.89 L77.29,151.82 L77.35,151.74 L77.41,151.67 L77.47,151.59 L77.54,151.52 L77.60,151.44 L77.66,151.36 L77.72,151.29 L77.79,151.21 L77.85,151.14 L77.91,151.06 L77.97,150.99 L78.04,150.91 L78.10,150.84 L78.16,150.76 L78.23,150.69 L78.29,150.61 L78.35,150.54 L78.42,150.46 L78.48,150.39 L78.54,150.31 L78.61,150.24 L78.67,150.16 L78.74,150.09 L78.80,150.01 L78.87,149.94 L78.93,149.86 L78.99,149.79 L79.06,149.71 L79.12,149.64 L79.19,149.56 L79.25,149.49 L79.32,149.41 L79.38,149.34 L79.45,149.26 L79.52,149.19 L79.58,149.11 L79.65,149.04 L79.71,148.96 L79.78,148.89 L79.84,148.81 L79.91,148.74 L79.98,148.66 L80.04,148.59 L80.11,148.51 L80.17,148.44 L80.24,148.36 L80.31,148.29 L80.37,148.21 L80.44,148.14 L80.51,148.06 L80.58,147.99 L80.64,147.91 L80.71,147.84 L80.75,147.80M85.76,142.55 L85.84,142.48 L85.91,142.41 L85.99,142.34 L86.06,142.26 L86.14,142.19 L86.21,142.11 L86.29,142.04 L86.37,141.97 L86.44,141.89 L86.52,141.82 L86.59,141.74 L86.67,141.67 L86.75,141.60 L86.82,141.52 L86.90,141.45 L86.98,141.37 L87.05,141.30 L87.13,141.23 L87.21,141.15 L87.28,141.08 L87.36,141.01 L87.44,140.93 L87.52,140.86 L87.59,140.79 L87.67,140.71 L87.75,140.64 L87.83,140.56 L87.91,140.49 L87.98,140.42 L88.06,140.34 L88.14,140.27 L88.22,140.20 L88.30,140.12 L88.38,140.05 L88.46,139.98 L88.54,139.90 L88.61,139.83 L88.69,139.75 L88.77,139.68 L88.85,139.61 L88.93,139.53 L89.01,139.46 L89.09,139.39 L89.17,139.31 L89.25,139.24 L89.33,139.17 L89.41,139.09 L89.49,139.02 L89.57,138.95 L89.65,138.87 L89.73,138.80 L89.82,138.73 L89.90,138.65 L89.98,138.58 L90.06,138.51 L90.14,138.43 L90.22,138.36 L90.30,138.29 L90.38,138.21 L90.47,138.14 L90.55,138.07 L90.56,138.05M95.81,133.58 L95.86,133.55 L95.95,133.47 L96.04,133.40 L96.12,133.33 L96.21,133.26 L96.30,133.18 L96.39,133.11 L96.48,133.04 L96.57,132.97 L96.67,132.89 L96.76,132.82 L96.85,132.75 L96.94,132.68 L97.03,132.60 L97.12,132.53 L97.21,132.46 L97.30,132.39 L97.39,132.32 L97.48,132.24 L97.58,132.17 L97.67,132.10 L97.76,132.03 L97.85,131.95 L97.94,131.88 L98.04,131.81 L98.13,131.74 L98.22,131.66 L98.31,131.59 L98.41,131.52 L98.50,131.45 L98.59,131.38 L98.68,131.30 L98.78,131.23 L98.87,131.16 L98.96,131.09 L99.06,131.02 L99.15,130.94 L99.24,130.87 L99.34,130.80 L99.43,130.73 L99.53,130.65 L99.62,130.58 L99.72,130.51 L99.81,130.44 L99.91,130.37 L100.00,130.29 L100.09,130.22 L100.19,130.15 L100.28,130.08 L100.38,130.01 L100.48,129.93 L100.57,129.86 L100.61,129.83M105.86,126.03 L105.92,125.99 L106.02,125.92 L106.12,125.85 L106.23,125.78 L106.33,125.71 L106.43,125.64 L106.54,125.57 L106.64,125.49 L106.74,125.42 L106.85,125.35 L106.95,125.28 L107.05,125.21 L107.16,125.14 L107.26,125.07 L107.37,125.00 L107.47,124.92 L107.58,124.85 L107.68,124.78 L107.79,124.71 L107.89,124.64 L108.00,124.57 L108.10,124.50 L108.21,124.43 L108.31,124.36 L108.42,124.28 L108.52,124.21 L108.63,124.14 L108.73,124.07 L108.84,124.00 L108.95,123.93 L109.05,123.86 L109.16,123.79 L109.27,123.72 L109.37,123.64 L109.48,123.57 L109.59,123.50 L109.69,123.43 L109.80,123.36 L109.91,123.29 L110.02,123.22 L110.12,123.15 L110.23,123.08 L110.34,123.01 L110.45,122.94 L110.56,122.86 L110.66,122.80M115.91,119.48 L115.91,119.48 L116.03,119.41 L116.14,119.34 L116.26,119.27 L116.37,119.19 L116.49,119.12 L116.60,119.05 L116.72,118.98 L116.83,118.91 L116.95,118.84 L117.07,118.77 L117.18,118.70 L117.30,118.63 L117.41,118.56 L117.53,118.49 L117.65,118.42 L117.77,118.35 L117.88,118.28 L118.00,118.21 L118.12,118.14 L118.23,118.07 L118.35,118.00 L118.47,117.93 L118.59,117.86 L118.71,117.79 L118.82,117.72 L118.94,117.65 L119.06,117.58 L119.18,117.51 L119.30,117.44 L119.42,117.37 L119.54,117.30 L119.66,117.23 L119.77,117.16 L119.89,117.09 L120.01,117.02 L120.13,116.95 L120.25,116.88 L120.37,116.81 L120.49,116.74 L120.61,116.67 L120.71,116.62M125.96,113.66 L126.05,113.61 L126.17,113.54 L126.30,113.47 L126.43,113.40 L126.56,113.33 L126.68,113.26 L126.81,113.19 L126.94,113.12 L127.07,113.05 L127.19,112.98 L127.32,112.91 L127.45,112.84 L127.58,112.77 L127.71,112.70 L127.84,112.63 L127.96,112.57 L128.09,112.50 L128.22,112.43 L128.35,112.36 L128.48,112.29 L128.61,112.22 L128.74,112.15 L128.87,112.08 L129.00,112.01 L129.13,111.94 L129.26,111.87 L129.39,111.80 L129.52,111.73 L129.65,111.67 L129.78,111.60 L129.91,111.53 L130.04,111.46 L130.18,111.39 L130.31,111.32 L130.44,111.25 L130.57,111.18 L130.70,111.11 L130.76,111.08M136.00,108.40 L136.10,108.36 L136.23,108.29 L136.37,108.22 L136.51,108.15 L136.65,108.08 L136.79,108.02 L136.93,107.95 L137.07,107.88 L137.20,107.81 L137.34,107.74 L137.48,107.67 L137.62,107.60 L137.76,107.54 L137.90,107.47 L138.04,107.40 L138.18,107.33 L138.32,107.26 L138.46,107.19 L138.60,107.12 L138.74,107.06 L138.88,106.99 L139.02,106.92 L139.17,106.85 L139.31,106.78 L139.45,106.71 L139.59,106.64 L139.73,106.58 L139.87,106.51 L140.02,106.44 L140.16,106.37 L140.30,106.30 L140.44,106.23 L140.59,106.17 L140.73,106.10 L140.80,106.06M146.05,103.61 L146.12,103.58 L146.27,103.51 L146.42,103.44 L146.57,103.37 L146.72,103.30 L146.87,103.24 L147.02,103.17 L147.16,103.10 L147.31,103.03 L147.46,102.97 L147.61,102.90 L147.76,102.83 L147.92,102.76 L148.07,102.69 L148.22,102.63 L148.37,102.56 L148.52,102.49 L148.67,102.42 L148.82,102.35 L148.97,102.29 L149.12,102.22 L149.28,102.15 L149.43,102.08 L149.58,102.02 L149.73,101.95 L149.89,101.88 L150.04,101.81 L150.19,101.75 L150.34,101.68 L150.50,101.61 L150.65,101.54 L150.80,101.47 L150.85,101.45M156.10,99.19 L156.11,99.18 L156.27,99.11 L156.43,99.05 L156.59,98.98 L156.75,98.91 L156.91,98.84 L157.07,98.78 L157.23,98.71 L157.39,98.64 L157.55,98.57 L157.71,98.51 L157.87,98.44 L158.03,98.37 L158.19,98.31 L158.36,98.24 L158.52,98.17 L158.68,98.10 L158.84,98.04 L159.00,97.97 L159.16,97.90 L159.33,97.83 L159.49,97.77 L159.65,97.70 L159.81,97.63 L159.98,97.57 L160.14,97.50 L160.30,97.43 L160.47,97.37 L160.63,97.30 L160.79,97.23 L160.90,97.19M166.15,95.08 L166.28,95.02 L166.45,94.96 L166.62,94.89 L166.79,94.82 L166.96,94.76 L167.13,94.69 L167.30,94.62 L167.47,94.56 L167.64,94.49 L167.81,94.42 L167.98,94.36 L168.15,94.29 L168.33,94.22 L168.50,94.16 L168.67,94.09 L168.84,94.02 L169.01,93.96 L169.18,93.89 L169.36,93.82 L169.53,93.76 L169.70,93.69 L169.87,93.62 L170.05,93.56 L170.22,93.49 L170.39,93.42 L170.57,93.36 L170.74,93.29 L170.91,93.22 L170.95,93.21M176.20,91.23 L176.20,91.23 L176.38,91.17 L176.56,91.10 L176.74,91.03 L176.92,90.97 L177.09,90.90 L177.27,90.84 L177.45,90.77 L177.63,90.70 L177.81,90.64 L178.00,90.57 L178.18,90.50 L178.36,90.44 L178.54,90.37 L178.72,90.31 L178.90,90.24 L179.08,90.17 L179.26,90.11 L179.44,90.04 L179.63,89.98 L179.81,89.91 L179.99,89.84 L180.17,89.78 L180.36,89.71 L180.54,89.65 L180.72,89.58 L180.91,89.51 L181.00,89.48M186.24,87.62 L186.29,87.60 L186.48,87.54 L186.67,87.47 L186.86,87.41 L187.05,87.34 L187.24,87.27 L187.43,87.21 L187.62,87.14 L187.81,87.08 L188.00,87.01 L188.19,86.95 L188.38,86.88 L188.57,86.81 L188.76,86.75 L188.95,86.68 L189.14,86.62 L189.33,86.55 L189.52,86.49 L189.71,86.42 L189.90,86.36 L190.10,86.29 L190.29,86.22 L190.48,86.16 L190.67,86.09 L190.87,86.03 L191.04,85.97M196.29,84.21 L196.33,84.20 L196.53,84.13 L196.72,84.07 L196.92,84.00 L197.12,83.94 L197.32,83.87 L197.52,83.80 L197.72,83.74 L197.92,83.67 L198.11,83.61 L198.31,83.54 L198.51,83.48 L198.71,83.41 L198.91,83.35 L199.11,83.28 L199.31,83.22 L199.51,83.15 L199.71,83.09 L199.91,83.02 L200.12,82.96 L200.32,82.89 L200.52,82.83 L200.72,82.76 L200.92,82.70 L201.09,82.64M206.34,80.97 L206.44,80.94 L206.64,80.88 L206.85,80.81 L207.06,80.75 L207.26,80.68 L207.47,80.62 L207.68,80.55 L207.89,80.49 L208.10,80.42 L208.30,80.36 L208.51,80.29 L208.72,80.23 L208.93,80.16 L209.14,80.10 L209.35,80.03 L209.56,79.97 L209.77,79.90 L209.98,79.84 L210.19,79.78 L210.40,79.71 L210.61,79.65 L210.82,79.58 L211.03,79.52 L211.14,79.48M216.39,77.89 L216.57,77.84 L216.79,77.77 L217.01,77.71 L217.22,77.64 L217.44,77.58 L217.66,77.51 L217.87,77.45 L218.09,77.39 L218.31,77.32 L218.52,77.26 L218.74,77.19 L218.96,77.13 L219.18,77.06 L219.39,77.00 L219.61,76.94 L219.83,76.87 L220.05,76.81 L220.27,76.74 L220.49,76.68 L220.71,76.61 L220.93,76.55 L221.15,76.48 L221.19,76.47M226.44,74.95 L226.47,74.94 L226.70,74.88 L226.92,74.82 L227.15,74.75 L227.37,74.69 L227.60,74.62 L227.82,74.56 L228.05,74.49 L228.27,74.43 L228.50,74.37 L228.72,74.30 L228.95,74.24 L229.18,74.17 L229.40,74.11 L229.63,74.05 L229.86,73.98 L230.09,73.92 L230.31,73.85 L230.54,73.79 L230.77,73.73 L231.00,73.66 L231.22,73.60 L231.24,73.60M236.48,72.14 L236.53,72.13 L236.76,72.07 L236.99,72.00 L237.23,71.94 L237.46,71.88 L237.69,71.81 L237.93,71.75 L238.16,71.68 L238.40,71.62 L238.63,71.56 L238.86,71.49 L239.10,71.43 L239.33,71.37 L239.57,71.30 L239.81,71.24 L240.04,71.17 L240.28,71.11 L240.51,71.05 L240.75,70.98 L240.99,70.92 L241.22,70.86 L241.28,70.84M246.53,69.44 L246.72,69.40 L246.96,69.33 L247.20,69.27 L247.44,69.20 L247.69,69.14 L247.93,69.08 L248.17,69.01 L248.41,68.95 L248.66,68.89 L248.90,68.82 L249.14,68.76 L249.39,68.70 L249.63,68.63 L249.87,68.57 L250.12,68.51 L250.36,68.44 L250.61,68.38 L250.85,68.32 L251.09,68.25 L251.33,68.19M256.58,66.85 L256.78,66.80 L257.03,66.74 L257.28,66.67 L257.53,66.61 L257.78,66.55 L258.03,66.48 L258.28,66.42 L258.53,66.36 L258.78,66.30 L259.03,66.23 L259.29,66.17 L259.54,66.11 L259.79,66.04 L260.04,65.98 L260.29,65.92 L260.55,65.85 L260.80,65.79 L261.05,65.73 L261.30,65.67 L261.38,65.65M266.63,64.35 L266.67,64.34 L266.92,64.28 L267.18,64.22 L267.44,64.16 L267.70,64.09 L267.96,64.03 L268.22,63.97 L268.47,63.90 L268.73,63.84 L268.99,63.78 L269.25,63.72 L269.51,63.65 L269.77,63.59 L270.03,63.53 L270.29,63.47 L270.55,63.40 L270.81,63.34 L271.07,63.28 L271.34,63.21 L271.43,63.19M276.68,61.94 L276.87,61.90 L277.13,61.84 L277.40,61.77 L277.66,61.71 L277.93,61.65 L278.20,61.59 L278.46,61.52 L278.73,61.46 L279.00,61.40 L279.27,61.34 L279.53,61.27 L279.80,61.21 L280.07,61.15 L280.34,61.09 L280.61,61.02 L280.87,60.96 L281.14,60.90 L281.41,60.84 L281.48,60.82M286.72,59.62 L286.84,59.59 L287.11,59.53 L287.38,59.46 L287.66,59.40 L287.93,59.34 L288.21,59.28 L288.48,59.22 L288.76,59.15 L289.03,59.09 L289.31,59.03 L289.58,58.97 L289.86,58.90 L290.13,58.84 L290.41,58.78 L290.69,58.72 L290.96,58.66 L291.24,58.59 L291.52,58.53 L291.52,58.53M296.77,57.36 L296.82,57.35 L297.10,57.29 L297.38,57.23 L297.66,57.17 L297.94,57.10 L298.23,57.04 L298.51,56.98 L298.79,56.92 L299.07,56.86 L299.36,56.79 L299.64,56.73 L299.92,56.67 L300.21,56.61 L300.49,56.55 L300.77,56.48 L301.06,56.42 L301.34,56.36 L301.57,56.31M306.82,55.18 L307.08,55.12 L307.37,55.06 L307.65,55.00 L307.94,54.94 L308.23,54.88 L308.52,54.81 L308.81,54.75 L309.10,54.69 L309.39,54.63 L309.69,54.57 L309.98,54.51 L310.27,54.44 L310.56,54.38 L310.85,54.32 L311.14,54.26 L311.43,54.20 L311.62,54.16M316.87,53.06 L317.02,53.03 L317.32,52.97 L317.62,52.90 L317.91,52.84 L318.21,52.78 L318.51,52.72 L318.81,52.66 L319.10,52.60 L319.40,52.53 L319.70,52.47 L320.00,52.41 L320.30,52.35 L320.60,52.29 L320.90,52.23 L321.20,52.17 L321.49,52.10 L321.67,52.07M326.92,51.00 L326.92,51.00 L327.23,50.94 L327.53,50.88 L327.84,50.82 L328.14,50.75 L328.45,50.69 L328.75,50.63 L329.06,50.57 L329.36,50.51 L329.67,50.45 L329.97,50.39 L330.28,50.33 L330.58,50.26 L330.89,50.20 L331.20,50.14 L331.50,50.08 L331.72,50.04M336.96,49.00 L337.07,48.98 L337.38,48.92 L337.69,48.86 L338.00,48.80 L338.31,48.73 L338.63,48.67 L338.94,48.61 L339.25,48.55 L339.56,48.49 L339.88,48.43 L340.19,48.37 L340.50,48.31 L340.82,48.25 L341.13,48.19 L341.45,48.12 L341.76,48.06 L341.76,48.06M347.01,47.05 L347.14,47.03 L347.46,46.97 L347.78,46.91 L348.10,46.84 L348.41,46.78 L348.73,46.72 L349.05,46.66 L349.37,46.60 L349.69,46.54 L350.01,46.48 L350.33,46.42 L350.66,46.36 L350.98,46.30 L351.30,46.24 L351.62,46.18 L351.81,46.14M357.06,45.15 L357.12,45.14 L357.45,45.08 L357.77,45.02 L358.10,44.96 L358.42,44.90 L358.75,44.84 L359.08,44.78 L359.40,44.72 L359.73,44.66 L360.06,44.60 L360.39,44.54 L360.71,44.48 L361.04,44.41 L361.37,44.35 L361.70,44.29 L361.86,44.26M367.11,43.30 L367.32,43.26 L367.66,43.20 L367.99,43.14 L368.32,43.08 L368.66,43.02 L368.99,42.96 L369.32,42.90 L369.66,42.84 L369.99,42.78 L370.33,42.72 L370.66,42.66 L371.00,42.60 L371.33,42.54 L371.67,42.48 L371.91,42.44M377.16,41.50 L377.41,41.45 L377.75,41.39 L378.09,41.33 L378.43,41.27 L378.77,41.21 L379.11,41.15 L379.45,41.09 L379.79,41.03 L380.14,40.97 L380.48,40.91 L380.82,40.85 L381.16,40.79 L381.50,40.73 L381.85,40.67 L381.96,40.65M387.20,39.73 L387.36,39.71 L387.71,39.65 L388.06,39.59 L388.41,39.53 L388.75,39.47 L389.10,39.41 L389.45,39.35 L389.80,39.29 L390.15,39.23 L390.49,39.17 L390.84,39.11 L391.19,39.05 L391.54,38.99 L391.89,38.93 L392.00,38.91M397.25,38.01 L397.52,37.97 L397.87,37.91 L398.23,37.85 L398.58,37.79 L398.94,37.73 L399.29,37.67 L399.65,37.61 L400.00,37.55 L400.36,37.49 L400.71,37.43 L401.07,37.37 L401.42,37.31 L401.78,37.25 L402.05,37.20M407.30,36.33 L407.52,36.29 L407.88,36.23 L408.24,36.17 L408.60,36.11 L408.96,36.05 L409.32,35.99 L409.68,35.93 L410.05,35.87 L410.41,35.81 L410.77,35.75 L411.13,35.69 L411.50,35.63 L411.86,35.57 L412.10,35.53M417.35,34.68 L417.70,34.62 L418.07,34.56 L418.44,34.50 L418.81,34.44 L419.18,34.38 L419.54,34.32 L419.91,34.26 L420.28,34.20 L420.65,34.14 L421.02,34.08 L421.39,34.02 L421.76,33.96 L422.13,33.90 L422.15,33.90" stroke="#1414a8" stroke-width="1.3" fill="none"/>
<path d="M50.50,6.00 H441.10 V293.70 H50.50 Z M44.1,293.70 H50.50 M441.10,293.70 H435.10 M47.1,273.15 H50.50 M441.10,273.15 H437.70 M44.1,252.60 H50.50 M441.10,252.60 H435.10 M47.1,232.05 H50.50 M441.10,232.05 H437.70 M44.1,211.50 H50.50 M441.10,211.50 H435.10 M47.1,190.95 H50.50 M441.10,190.95 H437.70 M44.1,170.40 H50.50 M441.10,170.40 H435.10 M47.1,149.85 H50.50 M441.10,149.85 H437.70 M44.1,129.30 H50.50 M441.10,129.30 H435.10 M47.1,108.75 H50.50 M441.10,108.75 H437.70 M44.1,88.20 H50.50 M441.10,88.20 H435.10 M47.1,67.65 H50.50 M441.10,67.65 H437.70 M44.1,47.10 H50.50 M441.10,47.10 H435.10 M47.1,26.55 H50.50 M441.10,26.55 H437.70 M44.1,6.00 H50.50 M441.10,6.00 H435.10 M50.50,293.70 V299.70 M50.50,6.00 V12.00 M89.56,293.70 V296.90 M89.56,6.00 V9.40 M128.62,293.70 V299.70 M128.62,6.00 V12.00 M167.68,293.70 V296.90 M167.68,6.00 V9.40 M206.74,293.70 V299.70 M206.74,6.00 V12.00 M245.80,293.70 V296.90 M245.80,6.00 V9.40 M284.86,293.70 V299.70 M284.86,6.00 V12.00 M323.92,293.70 V296.90 M323.92,6.00 V9.40 M362.98,293.70 V299.70 M362.98,6.00 V12.00 M402.04,293.70 V296.90 M402.04,6.00 V9.40 M441.10,293.70 V299.70 M441.10,6.00 V12.00" stroke="#000" stroke-width="1.45" fill="none" stroke-linejoin="miter"/>
<text transform="translate(41,298.60) scale(1,1.07)" font-size="15.5" text-anchor="end">0</text>
<text transform="translate(41,257.50) scale(1,1.07)" font-size="15.5" text-anchor="end">4</text>
<text transform="translate(41,216.40) scale(1,1.07)" font-size="15.5" text-anchor="end">8</text>
<text transform="translate(41,175.30) scale(1,1.07)" font-size="15.5" text-anchor="end">12</text>
<text transform="translate(41,134.20) scale(1,1.07)" font-size="15.5" text-anchor="end">16</text>
<text transform="translate(41,93.10) scale(1,1.07)" font-size="15.5" text-anchor="end">20</text>
<text transform="translate(41,52.00) scale(1,1.07)" font-size="15.5" text-anchor="end">24</text>
<text transform="translate(41,10.90) scale(1,1.07)" font-size="15.5" text-anchor="end">28</text>
<text transform="translate(50.50,314.6) scale(1,1.07)" font-size="15.5" text-anchor="middle">0.0</text>
<text transform="translate(128.62,317.6) scale(1,1.07)" font-size="15.5" text-anchor="middle">2.0x10<tspan font-size="9.6" dx="-0.6" dy="-6.6">16</tspan></text>
<text transform="translate(206.74,317.6) scale(1,1.07)" font-size="15.5" text-anchor="middle">4.0x10<tspan font-size="9.6" dx="-0.6" dy="-6.6">16</tspan></text>
<text transform="translate(284.86,317.6) scale(1,1.07)" font-size="15.5" text-anchor="middle">6.0x10<tspan font-size="9.6" dx="-0.6" dy="-6.6">16</tspan></text>
<text transform="translate(362.98,317.6) scale(1,1.07)" font-size="15.5" text-anchor="middle">8.0x10<tspan font-size="9.6" dx="-0.6" dy="-6.6">16</tspan></text>
<text transform="translate(441.10,317.6) scale(1,1.07)" font-size="15.5" text-anchor="middle">1.0x10<tspan font-size="9.6" dx="-0.6" dy="-6.6">17</tspan></text>
<text y="351.5" font-size="19.5"><tspan x="162.9">Electron</tspan><tspan x="232.0">density</tspan><tspan x="291.2">(m</tspan><tspan x="312.5" y="340.5" font-size="11.5">-3</tspan><tspan x="321.7" y="351.5">)</tspan></text>
<text transform="translate(14,162.7) rotate(-90)" x="0" y="0" font-size="19.5" text-anchor="middle">Plasma potential (V)</text>
<rect x="277.5" y="169.7" width="152.9" height="119.5" rx="1" fill="#fff" stroke="#6a6a6a" stroke-width="1.1"/>
<path d="M298.00,181.40L306.80,181.40M302.40,177.00L302.40,185.80M298.00,177.00L306.80,185.80M298.00,185.80L306.80,177.00" stroke="#008000" stroke-width="1.2" fill="none"/>
<circle cx="302.4" cy="200.4" r="3.8" fill="#fff" stroke="#1414a8" stroke-width="1.3"/>
<path d="M284,219.4 H317" stroke="#008000" stroke-width="1.6" stroke-dasharray="1.6 4.5"/>
<path d="M284.3,257.8 H320.2" stroke="#3434c4" stroke-width="1.3" stroke-dasharray="5.7 4.3"/>
<text x="323.5" y="187.0" font-size="15">PPS100-ML</text>
<text x="323.5" y="204.9" font-size="15">PPS1350-ML</text>
<text x="323.5" y="224.3" font-size="15">fit PPS100-ML</text>
<text x="323.5" y="243.6" font-size="15"><tspan font-style="italic">&#947;</tspan> = 1.37</text>
<text x="323.5" y="262.9" font-size="15">fit PPS1350-ML</text>
<text x="323.5" y="282.2" font-size="15"><tspan font-style="italic">&#947;</tspan> = 1.23</text>
</svg></body></html>
